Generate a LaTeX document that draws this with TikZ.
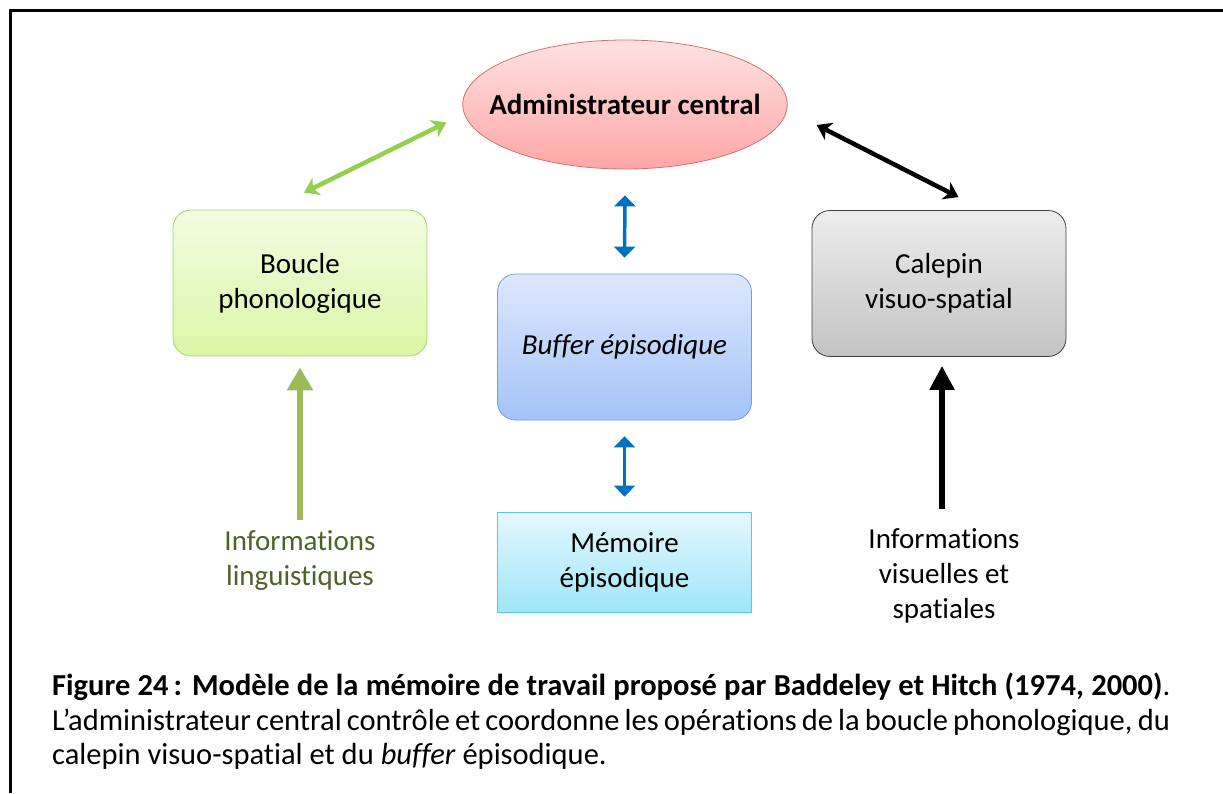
\documentclass[tikz,border=0pt]{standalone}
\usepackage{fontspec}
\setmainfont{Carlito}[Ligatures=NoCommon]
\usetikzlibrary{shapes.geometric,arrows.meta}

\definecolor{admintop}{HTML}{FFE2E2}
\definecolor{adminbot}{HTML}{FFA6A6}
\definecolor{adminline}{HTML}{D47070}
\definecolor{phonotop}{HTML}{F2FBE2}
\definecolor{phonobot}{HTML}{DAF7A6}
\definecolor{phonoline}{HTML}{A8D46C}
\definecolor{bufftop}{HTML}{DDE8FD}
\definecolor{buffbot}{HTML}{A4C3F8}
\definecolor{buffline}{HTML}{6E9EE2}
\definecolor{calptop}{HTML}{EDEDED}
\definecolor{calpbot}{HTML}{C3C3C3}
\definecolor{calpline}{HTML}{404040}
\definecolor{memtop}{HTML}{E4F8FD}
\definecolor{membot}{HTML}{9FE6F9}
\definecolor{memline}{HTML}{5CC6E2}
\definecolor{linkgreen}{HTML}{92D050}
\definecolor{inputgreen}{HTML}{9BBB59}
\definecolor{linggreen}{HTML}{4F6228}
\definecolor{swapblue}{HTML}{0070C0}

\begin{document}
\begin{tikzpicture}[x=1pt,y=-1pt,
    module/.style={draw,line width=0.8pt,rounded corners=\boxradius pt,minimum width=\boxwidth pt,minimum height=\boxheight pt,align=center,font=\labelfontsize},
    info/.style={align=center,inner sep=0pt,font=\labelfontsize},
    link/.style={line width=4.5pt,{Stealth[length=14pt,width=19pt,inset=4pt]}-{Stealth[length=14pt,width=19pt,inset=4pt]}},
    swap/.style={line width=3.5pt,swapblue,{Triangle[length=11pt,width=21pt]}-{Triangle[length=11pt,width=21pt]}},
    input/.style={line width=5.5pt,-{Triangle[length=23pt,width=25pt]}}]
    \pgfmathsetmacro{\boxwidth}{254}
    \pgfmathsetmacro{\boxheight}{146}
    \pgfmathsetmacro{\boxradius}{18}
    \providecommand{\labelfontsize}{\fontsize{29}{35}\selectfont}
    \providecommand{\captionfontsize}{\fontsize{30.5}{34.5}\selectfont}
    \useasboundingbox (0,0) rectangle (1223,793);
    \draw[line width=3pt] (10.5,793) -- (10.5,10.5) -- (1223,10.5);
    % the four parts of the model
    \node[ellipse,draw=adminline,line width=0.8pt,top color=admintop,bottom color=adminbot,minimum width=322pt,minimum height=129pt,inner xsep=-21pt,inner ysep=0pt,font=\labelfontsize\bfseries] (admin) at (625,104.5) {Administrateur central};
    \node[module,draw=phonoline,top color=phonotop,bottom color=phonobot] (boucle) at (300,283) {Boucle\\phonologique};
    \node[module,draw=buffline,top color=bufftop,bottom color=buffbot] (buffer) at (624.5,347) {\itshape Buffer épisodique};
    \node[module,draw=calpline,top color=calptop,bottom color=calpbot] (calepin) at (939,283.5) {Calepin\\visuo-spatial};
    \node[module,rounded corners=0pt,draw=memline,top color=memtop,bottom color=membot,minimum height=100pt] (memoire) at (624.5,562) {Mémoire\\épisodique};
    \node[info,text=linggreen] (infoling) at (300,560.5) {Informations\\linguistiques};
    \node[info] (infovis) at (944,575.5) {Informations\\visuelles et\\spatiales};
    % connectors
    \draw[link,linkgreen] ([shift={(4,-17)}]boucle.north) -- ([shift={(-16,18)}]admin.west);
    \draw[link,black] ([shift={(29,20.5)}]admin.east) -- ([shift={(19.5,-13)}]calepin.north);
    \draw[swap] ([yshift=-26pt]admin.south) -- ([yshift=16pt]buffer.north);
    \draw[swap] ([yshift=-16pt]buffer.south) -- ([yshift=15pt]memoire.north);
    \draw[input,inputgreen] ([yshift=10pt]infoling.north) -- ([yshift=-11pt]boucle.south);
    \draw[input,black,-{Triangle[length=24pt,width=24pt]}] ([shift={(-2,-19)}]infovis.north) -- ([shift={(3,9)}]calepin.south);
    \node[text width=1118pt,align=justify,inner sep=0pt,anchor=north west,font=\captionfontsize] (caption) at (52,673) {\textbf{Figure 24\,: Modèle de la mémoire de travail proposé par Baddeley et Hitch (1974, 2000)}.\linebreak L’administrateur central contrôle et coordonne les opérations de la boucle phonologique, du\linebreak calepin visuo-spatial et du \textit{buffer} épisodique.};
\end{tikzpicture}
\end{document}
